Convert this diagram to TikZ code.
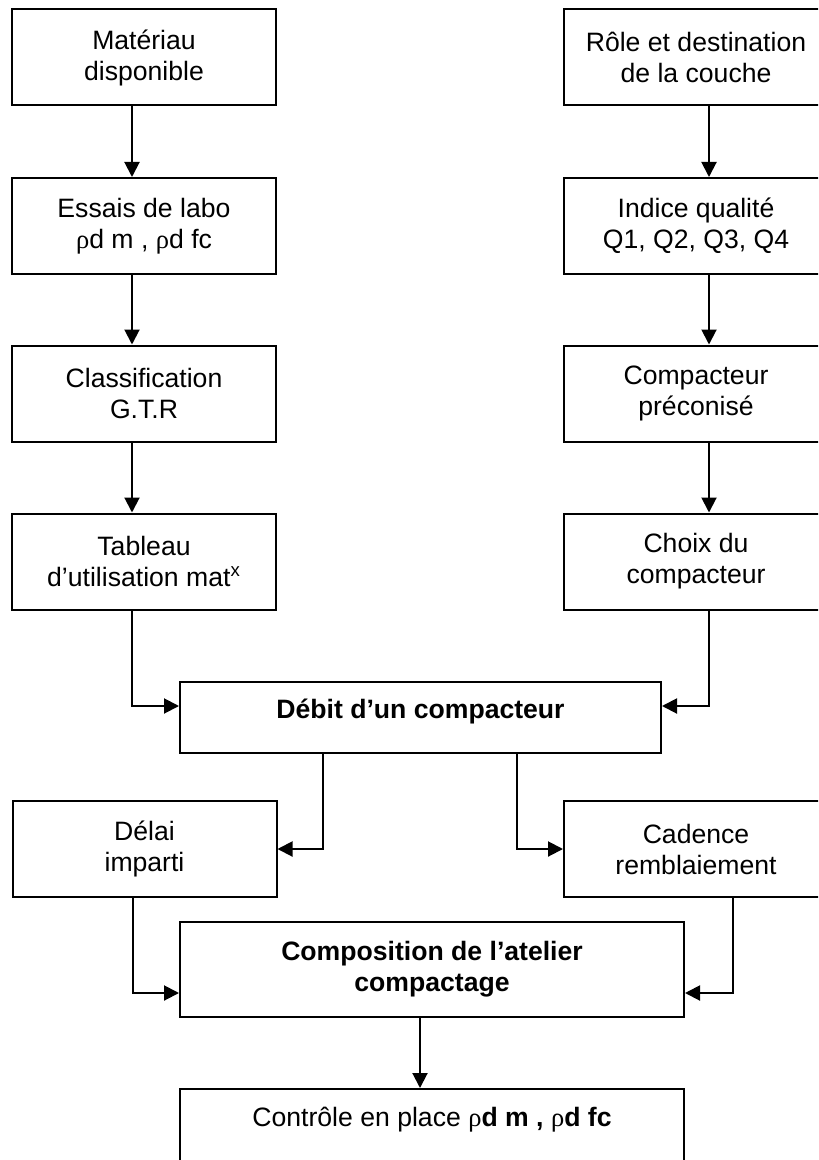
\documentclass[tikz,border=0pt]{standalone}
\usepackage{fontspec}
\setmainfont{Liberation Sans}
\newfontfamily\grk{Liberation Serif}
\usetikzlibrary{arrows.meta}
\newcommand{\rh}{{\grk ρ}}

\begin{document}
\begin{tikzpicture}[x=0.5pt,y=-0.5pt,line width=1pt,
  every node/.style={font=\fontsize{13.3}{15.5}\selectfont},
  box/.style={draw,align=center,inner sep=0pt,minimum width=132pt,minimum height=48pt},
  wide/.style={box,minimum width=252pt,minimum height=47.5pt},
  arr/.style={-{Triangle[length=7.5pt,width=7.5pt]}}]
  \useasboundingbox (0,0) rectangle (818,1160);
  \clip (0,0) rectangle (818,1160);
  % left column
  \node[box] (mat) at (144,57.5) {Matériau\\disponible};
  \node[box] (essais) at (144,226) {Essais de labo\\\rh d m , \rh d fc};
  \node[box] (classif) at (144,393.5) {Classification\\G.T.R};
  \node[box] (tableau) at (144,561.5) {Tableau\\d’utilisation mat\textsuperscript{x}};
  % right column
  \node[box] (role) at (696,57.5) {Rôle et destination\\de la couche};
  \node[box] (indice) at (696,226) {Indice qualité\\Q1, Q2, Q3, Q4};
  \node[box] (precon) at (696,393.5) {Compacteur\\préconisé};
  \node[box] (choix) at (696,561.5) {Choix du\\compacteur};
  % lower part
  \node[box,minimum width=240.5pt,minimum height=35.5pt,text depth=8.6pt,font=\fontsize{13.3}{15.5}\selectfont\bfseries]
    (debit) at (420.5,717.5) {Débit d’un compacteur};
  \node[box] (delai) at (144.5,849) {Délai\\imparti};
  \node[box] (cadence) at (696,849) {Cadence\\remblaiement};
  \node[wide,font=\fontsize{13.3}{15.5}\selectfont\bfseries] (compo) at (432,969.5)
    {Composition de l’atelier\\compactage};
  \node[wide,minimum height=47pt,text depth=18.7pt] (controle) at (432,1136)
    {Contrôle en place \rh\textbf{d m , }\rh\textbf{d fc}};

  \foreach \a/\b in {mat/essais,essais/classif,classif/tableau}
    \draw[arr] ([xshift=-6pt]\a.south) -- ([xshift=-6pt]\b.north);
  \foreach \a/\b in {role/indice,indice/precon,precon/choix}
    \draw[arr] ([xshift=6.5pt]\a.south) -- ([xshift=6.5pt]\b.north);
  \draw[arr] ([xshift=-6pt]tableau.south) |- ([yshift=5.75pt]debit.west);
  \draw[arr] ([xshift=6.5pt]choix.south) |- ([yshift=5.75pt]debit.east);
  \draw[arr] ([xshift=-48.75pt]debit.south) |- (delai.east);
  \draw[arr] ([xshift=48.25pt]debit.south) |- (cadence.west);
  \draw[arr] ([xshift=-6pt]delai.south) |- ([yshift=-11.75pt]compo.west);
  \draw[arr] ([xshift=18.5pt]cadence.south) |- ([yshift=-11.75pt]compo.east);
  \draw[arr] ([xshift=-6pt]compo.south) -- ([xshift=-6pt]controle.north);
\end{tikzpicture}
\end{document}
